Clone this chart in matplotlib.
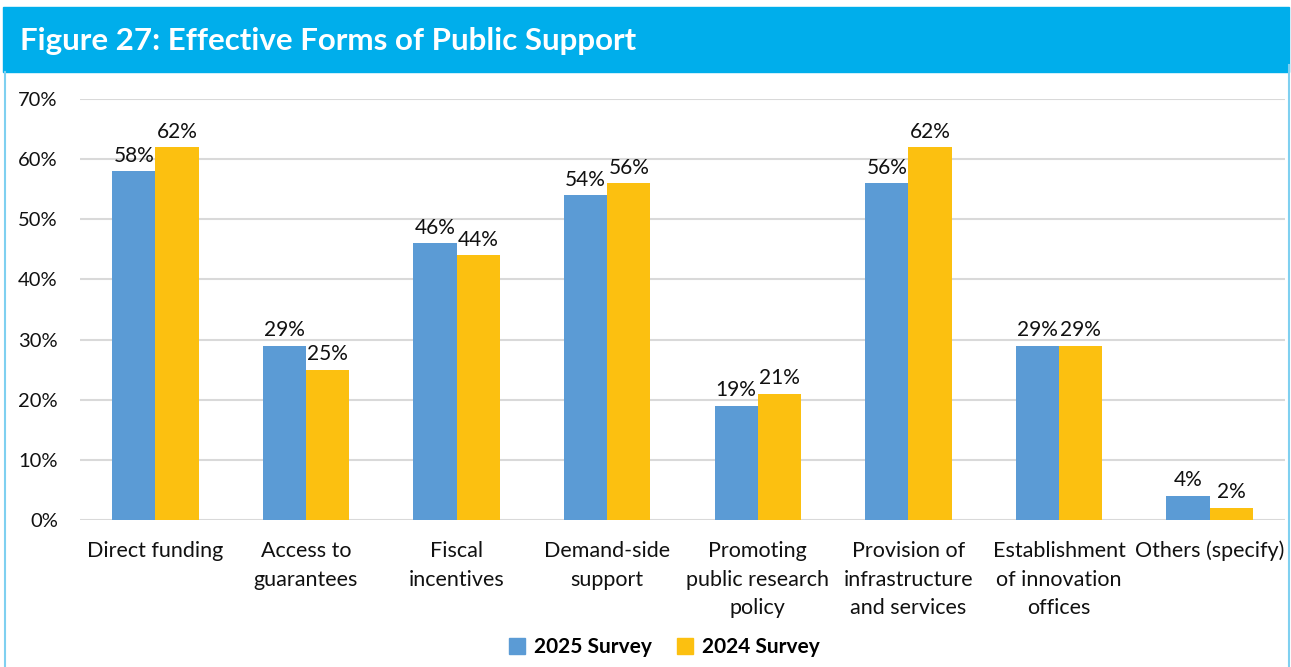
import numpy as np
import matplotlib.pyplot as plt
from matplotlib.patches import Rectangle, Patch
from matplotlib.lines import Line2D

categories = ["Direct funding", "Access to\nguarantees", "Fiscal\nincentives",
              "Demand-side\nsupport", "Promoting\npublic research\npolicy",
              "Provision of\ninfrastructure\nand services",
              "Establishment\nof innovation\noffices", "Others (specify)"]
survey_2025 = [58, 29, 46, 54, 19, 56, 29, 4]
survey_2024 = [62, 25, 44, 56, 21, 62, 29, 2]
yticks = [0, 10, 20, 30, 40, 50, 60, 70]

blue = "#5b9bd5"
gold = "#fcc010"
header = "#00aeeb"

plt.rcParams['font.family'] = ['Lato', 'DejaVu Sans']

fig = plt.figure(figsize=(12.91, 6.67), dpi=100)

# header band and side borders
fig.patches.append(Rectangle((3 / 1291, 1 - 72 / 667), 1286 / 1291, 65 / 667,
                             transform=fig.transFigure, color=header, zorder=0))
fig.lines.append(Line2D([4.5 / 1291, 4.5 / 1291], [0, 1 - 72 / 667],
                        transform=fig.transFigure, color="#7fd0f0", lw=1.5))
fig.lines.append(Line2D([1288.5 / 1291, 1288.5 / 1291], [0, 1 - 65 / 667],
                        transform=fig.transFigure, color="#7fd0f0", lw=1.5))
fig.text(20 / 1291, 1 - 41 / 667, "Figure 27: Effective Forms of Public Support",
         color="white", fontsize=22.5, fontweight="bold", va="center", ha="left")

ax = fig.add_axes([80 / 1291, 1 - 520 / 667, 1205 / 1291, 421 / 667])
x = np.arange(len(categories))
w = 0.287
b1 = ax.bar(x - w / 2, survey_2025, w, color=blue, zorder=3)
b2 = ax.bar(x + w / 2, survey_2024, w, color=gold, zorder=3)

for bars, vals in ((b1, survey_2025), (b2, survey_2024)):
    for r, v in zip(bars, vals):
        ax.annotate(f"{v}%", (r.get_x() + r.get_width() / 2, v),
                    xytext=(0, 4), textcoords="offset points",
                    ha="center", va="bottom", fontsize=15, color="#111111")

ax.set_xlim(-0.5, len(categories) - 0.5)
ax.set_ylim(0, 70)
ax.set_yticks(yticks)
ax.set_yticklabels([f"{t}%" for t in yticks])
ax.set_xticks(x)
ax.set_xticklabels(categories, fontsize=15.5, linespacing=1.55)
ax.tick_params(axis="y", length=0, pad=16, labelsize=14.5, labelcolor="#111111")
ax.tick_params(axis="x", length=0, pad=15, labelcolor="#111111")
ax.grid(axis="y", color="#d9d9d9", lw=1.5, zorder=0)
for s in ax.spines.values():
    s.set_visible(False)

handles = [Patch(color=blue, label="2025 Survey"), Patch(color=gold, label="2024 Survey")]
fig.legend(handles=handles, loc="center", bbox_to_anchor=(664 / 1291, 1 - 647 / 667),
           ncol=2, frameon=False, prop={"weight": "bold", "size": 15},
           handlelength=0.8, handleheight=0.8, handletextpad=0.4, columnspacing=1.2)

fig.savefig("out.png", dpi=100)
